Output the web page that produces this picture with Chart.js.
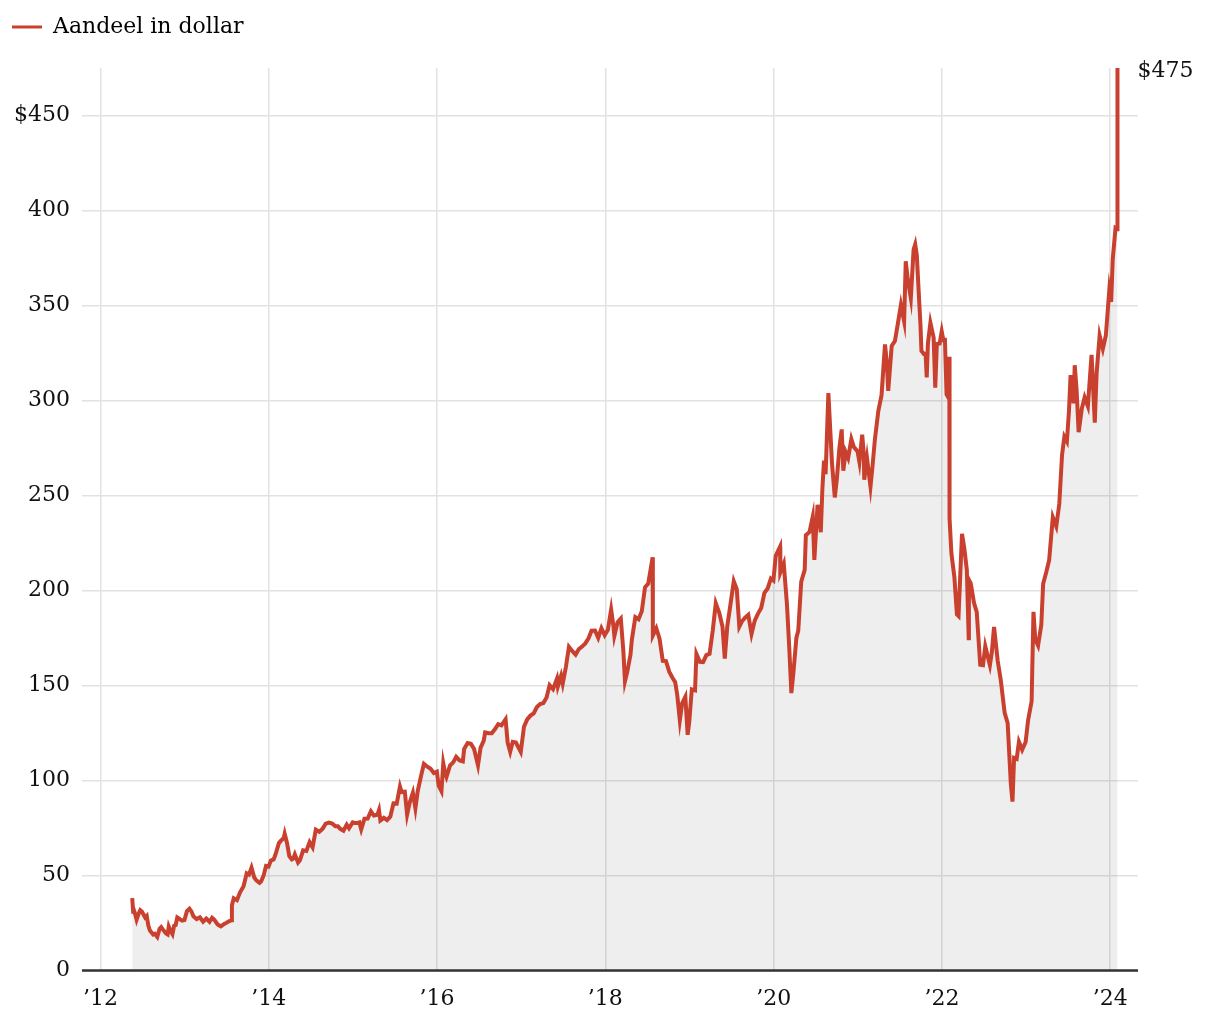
<!DOCTYPE html>
<html>
<head>
<meta charset="utf-8">
<script src="https://cdn.jsdelivr.net/npm/chart.js@4.4.1/dist/chart.umd.min.js"></script>
<style>
  html, body { margin: 0; padding: 0; background: #fff; }
  #wrap { width: 1220px; height: 1020px; }
</style>
</head>
<body>
<div id="wrap"><canvas id="myChart" width="1220" height="1020"></canvas></div>
<script>
// Data: slotkoers aandeel (dollar), ongeveer tweewekelijks
const dagen = [
  '2012-05-18','2012-05-22','2012-05-25','2012-05-31','2012-06-06','2012-06-15','2012-06-22','2012-06-29',
  '2012-07-13','2012-07-20','2012-07-27','2012-08-03','2012-08-17','2012-08-24','2012-09-04','2012-09-14',
  '2012-09-21','2012-09-28','2012-10-12','2012-10-19','2012-10-24','2012-10-31','2012-11-09','2012-11-16',
  '2012-11-23','2012-11-30','2012-12-07','2012-12-14','2012-12-21','2012-12-31',
  '2013-01-11','2013-01-22','2013-01-31','2013-02-08','2013-02-22','2013-03-08','2013-03-22','2013-04-05',
  '2013-04-19','2013-04-30','2013-05-10','2013-05-24','2013-06-07','2013-06-21','2013-06-28','2013-07-12',
  '2013-07-24','2013-07-25','2013-08-02','2013-08-16','2013-08-30','2013-09-13','2013-09-20','2013-09-27',
  '2013-10-07','2013-10-18','2013-10-30','2013-11-08','2013-11-22','2013-11-29','2013-12-10','2013-12-20',
  '2013-12-31',
  '2014-01-10','2014-01-22','2014-01-30','2014-02-07','2014-02-14','2014-02-21','2014-03-07','2014-03-11',
  '2014-03-21','2014-03-31','2014-04-11','2014-04-17','2014-04-24','2014-05-08','2014-05-16','2014-05-30',
  '2014-06-13','2014-06-27','2014-07-10','2014-07-24','2014-08-08','2014-08-22','2014-09-05','2014-09-19',
  '2014-10-03','2014-10-17','2014-10-28','2014-11-07','2014-11-21','2014-12-05','2014-12-15','2014-12-31',
  '2015-01-09','2015-01-23','2015-01-29','2015-02-06','2015-02-20','2015-03-06','2015-03-20','2015-04-02',
  '2015-04-17','2015-04-24','2015-04-30','2015-05-15','2015-05-29','2015-06-12','2015-06-26','2015-07-10',
  '2015-07-24','2015-07-31','2015-08-14','2015-08-24','2015-09-04','2015-09-18','2015-09-29','2015-10-09',
  '2015-10-23','2015-11-05','2015-11-20','2015-12-04','2015-12-18','2015-12-31',
  '2016-01-08','2016-01-20','2016-01-28','2016-02-05','2016-02-11','2016-02-26','2016-03-11','2016-03-24',
  '2016-04-08','2016-04-22','2016-04-28','2016-05-13','2016-05-27','2016-06-10','2016-06-27','2016-07-08',
  '2016-07-22','2016-07-28','2016-08-12','2016-08-26','2016-09-09','2016-09-23','2016-10-07','2016-10-25',
  '2016-11-03','2016-11-14','2016-11-25','2016-12-09','2016-12-30',
  '2017-01-13','2017-01-27','2017-02-10','2017-02-24','2017-03-10','2017-03-24','2017-04-07','2017-04-21',
  '2017-05-04','2017-05-19','2017-06-05','2017-06-09','2017-06-23','2017-06-30','2017-07-14','2017-07-27',
  '2017-08-11','2017-08-25','2017-09-08','2017-09-22','2017-10-06','2017-10-20','2017-11-02','2017-11-17',
  '2017-12-01','2017-12-15','2017-12-29',
  '2018-01-12','2018-01-26','2018-02-05','2018-02-09','2018-02-23','2018-03-09','2018-03-20','2018-03-27',
  '2018-04-06','2018-04-20','2018-04-26','2018-05-11','2018-05-25','2018-06-08','2018-06-22','2018-07-06',
  '2018-07-25','2018-07-26','2018-08-10','2018-08-24','2018-09-07','2018-09-21','2018-10-05','2018-10-19',
  '2018-10-31','2018-11-09','2018-11-20','2018-11-30','2018-12-14','2018-12-24','2018-12-31',
  '2019-01-11','2019-01-25','2019-01-31','2019-02-15','2019-03-01','2019-03-15','2019-03-29','2019-04-12',
  '2019-04-25','2019-05-10','2019-05-24','2019-06-03','2019-06-14','2019-06-28','2019-07-12','2019-07-25',
  '2019-08-05','2019-08-16','2019-08-30','2019-09-13','2019-09-27','2019-10-11','2019-10-25','2019-11-08',
  '2019-11-22','2019-12-06','2019-12-20','2019-12-31',
  '2020-01-10','2020-01-29','2020-01-30','2020-02-14','2020-02-28','2020-03-09','2020-03-18','2020-03-27',
  '2020-04-09','2020-04-17','2020-04-30','2020-05-15','2020-05-20','2020-06-05','2020-06-19','2020-06-26',
  '2020-07-10','2020-07-24','2020-07-31','2020-08-07','2020-08-14','2020-08-26','2020-09-04','2020-09-11',
  '2020-09-23','2020-10-02','2020-10-13','2020-10-23','2020-10-30','2020-11-09','2020-11-20','2020-12-04',
  '2020-12-15','2020-12-31',
  '2021-01-08','2021-01-20','2021-01-27','2021-01-29','2021-02-10','2021-02-25','2021-03-05','2021-03-16',
  '2021-03-31','2021-04-14','2021-04-29','2021-05-07','2021-05-13','2021-05-28','2021-06-11','2021-06-25',
  '2021-07-07','2021-07-21','2021-07-28','2021-08-06','2021-08-19','2021-08-31','2021-09-07','2021-09-14',
  '2021-09-24','2021-09-30','2021-10-04','2021-10-14','2021-10-22','2021-10-27','2021-11-01','2021-11-12',
  '2021-11-26','2021-12-03','2021-12-10','2021-12-22','2021-12-31',
  '2022-01-07','2022-01-14','2022-01-21','2022-01-28','2022-02-02','2022-02-03','2022-02-11','2022-02-24',
  '2022-03-07','2022-03-14','2022-03-29','2022-04-08','2022-04-19','2022-04-27','2022-04-28','2022-05-06',
  '2022-05-20','2022-06-01','2022-06-16','2022-06-28','2022-07-08','2022-07-28','2022-08-05','2022-08-15',
  '2022-08-31','2022-09-13','2022-09-30','2022-10-13','2022-10-27','2022-11-03','2022-11-10','2022-11-21',
  '2022-12-01','2022-12-15','2022-12-30',
  '2023-01-10','2023-01-25','2023-02-02','2023-02-10','2023-02-22','2023-03-08','2023-03-16','2023-03-30',
  '2023-04-11','2023-04-27','2023-05-12','2023-05-25','2023-06-06','2023-06-16','2023-06-27','2023-07-06',
  '2023-07-13','2023-07-26','2023-07-31','2023-08-08','2023-08-17','2023-08-31','2023-09-12','2023-09-26',
  '2023-10-12','2023-10-26','2023-11-03','2023-11-16','2023-11-30','2023-12-13','2023-12-28',
  '2024-01-05','2024-01-12','2024-01-24','2024-01-31','2024-02-01','2024-02-02'
];

const koers = [
  38.2, 31.0, 31.9, 29.6, 26.8, 30.0, 31.8, 31.1,
  28.0, 28.8, 23.7, 21.1, 19.0, 19.4, 17.7, 22.0,
  22.9, 21.7, 19.5, 19.0, 23.2, 21.1, 19.2, 23.6,
  24.0, 28.0, 27.5, 26.8, 26.3, 26.6,
  31.3, 32.5, 31.0, 28.6, 27.1, 28.0, 25.7, 27.4,
  25.7, 27.8, 26.7, 24.3, 23.3, 24.5, 24.9, 25.9,
  26.5, 34.4, 38.1, 37.1, 41.3, 44.3, 47.5, 51.2,
  50.5, 54.2, 49.0, 47.5, 46.2, 47.0, 50.2, 55.1,
  54.7,
  57.9, 58.5, 61.1, 64.3, 67.1, 68.1, 69.8, 72.0,
  67.2, 60.2, 58.5, 58.9, 61.2, 56.8, 58.0, 63.3,
  63.0, 67.6, 64.9, 74.2, 73.1, 74.6, 77.3, 77.9,
  77.4, 75.9, 75.9, 74.6, 73.6, 76.8, 74.9, 78.0,
  77.7, 77.7, 78.0, 74.3, 79.9, 80.0, 83.8, 81.6,
  82.0, 84.5, 79.0, 80.4, 79.2, 81.0, 88.0, 87.9,
  96.9, 94.0, 94.2, 82.1, 88.3, 93.6, 85.4, 94.4,
  102.2, 108.8, 107.3, 106.2, 104.0, 104.7,
  97.3, 94.4, 109.1, 104.1, 101.9, 107.9, 109.6, 112.5,
  110.6, 110.1, 116.7, 119.8, 119.4, 116.6, 108.0, 117.2,
  121.0, 125.3, 124.9, 124.9, 127.1, 129.7, 129.1, 132.3,
  120.0, 115.1, 120.4, 120.0, 115.1,
  128.3, 132.2, 134.2, 135.4, 138.7, 140.3, 140.8, 143.7,
  150.2, 148.1, 153.6, 149.6, 155.1, 151.0, 159.9, 170.4,
  168.1, 166.3, 169.2, 170.5, 172.2, 174.9, 178.9, 179.0,
  175.1, 180.2, 176.5,
  179.4, 190.0, 181.3, 176.1, 183.3, 185.2, 168.2, 152.2,
  157.2, 166.3, 174.2, 186.0, 184.9, 189.1, 201.7, 203.7,
  217.5, 176.3, 180.2, 174.7, 163.0, 162.9, 157.3, 154.1,
  151.8, 144.9, 131.7, 140.6, 144.1, 124.1, 131.1,
  148.0, 147.5, 166.7, 162.5, 162.3, 166.0, 166.7, 179.1,
  193.3, 188.3, 181.1, 164.2, 181.3, 193.0, 204.9, 200.7,
  181.0, 183.7, 185.7, 187.2, 177.1, 184.2, 187.9, 190.8,
  198.8, 201.1, 206.3, 205.3,
  218.3, 223.2, 209.5, 214.2, 192.5, 169.5, 146.0, 156.8,
  175.2, 178.9, 204.7, 210.9, 229.1, 230.8, 238.8, 216.1,
  245.1, 230.7, 253.7, 268.4, 261.2, 303.9, 282.7, 266.6,
  249.0, 259.0, 275.0, 284.8, 263.1, 272.9, 269.7, 279.7,
  275.5, 273.2,
  267.6, 282.0, 272.1, 258.3, 269.6, 254.7, 264.3, 279.3,
  294.5, 302.8, 329.5, 320.0, 305.1, 328.7, 331.3, 341.4,
  350.4, 341.7, 373.3, 363.5, 353.9, 379.4, 382.2, 376.5,
  352.9, 339.4, 326.2, 324.5, 324.6, 312.2, 329.9, 340.9,
  333.1, 306.8, 329.8, 330.0, 336.4,
  331.8, 331.9, 303.2, 301.7, 323.0, 237.8, 219.6, 207.0,
  187.5, 186.6, 229.9, 222.3, 210.8, 174.9, 205.7, 203.8,
  193.5, 188.6, 160.9, 160.7, 170.7, 160.7, 167.1, 180.9,
  162.9, 153.1, 135.7, 130.3, 97.9, 88.9, 111.9, 111.4,
  120.4, 116.2, 120.3,
  132.0, 141.7, 188.8, 174.2, 171.0, 182.0, 203.6, 209.9,
  216.0, 238.6, 233.8, 245.6, 271.4, 281.0, 278.5, 294.4,
  313.4, 298.6, 318.6, 305.7, 283.3, 295.9, 301.7, 297.0,
  324.0, 288.4, 314.6, 334.2, 327.2, 334.2, 358.3,
  351.9, 374.5, 390.7, 390.1, 394.8, 475.0
];

const jaarTicks = [2012, 2014, 2016, 2018, 2020, 2022, 2024];
const yTicks = [0, 50, 100, 150, 200, 250, 300, 350, 400, 450];

// datum -> jaar als decimaal getal
function naarJaar(d) {
  const p = d.split('-').map(Number);
  const start = Date.UTC(p[0], 0, 1);
  const eind = Date.UTC(p[0] + 1, 0, 1);
  return p[0] + (Date.UTC(p[0], p[1] - 1, p[2]) - start) / (eind - start);
}

const punten = dagen.map((d, i) => ({ x: naarJaar(d), y: koers[i] }));

const rood = '#c9402e';
const serif = '"DejaVu Serif", "Liberation Serif", serif';

// ruimte onder de legenda
const legendaMarge = {
  id: 'legendaMarge',
  afterInit(chart) {
    const fit = chart.legend.fit;
    chart.legend.fit = function () {
      fit.bind(chart.legend)();
      this.height += 20;
    };
  }
};

// nullijn boven de vulling + label met laatste koers
const eindLabel = {
  id: 'eindLabel',
  afterDatasetsDraw(chart) {
    const { ctx, scales } = chart;
    const y0 = scales.y.getPixelForValue(0);
    ctx.save();
    ctx.strokeStyle = '#333';
    ctx.lineWidth = 2.5;
    ctx.beginPath();
    ctx.moveTo(scales.x.left, y0);
    ctx.lineTo(scales.x.right, y0);
    ctx.stroke();

    const meta = chart.getDatasetMeta(0);
    const laatste = meta.data[meta.data.length - 1];
    ctx.font = '22px ' + serif;
    ctx.fillStyle = '#111';
    ctx.textAlign = 'left';
    ctx.textBaseline = 'middle';
    ctx.fillText('$' + Math.round(koers[koers.length - 1]), laatste.x + 20, laatste.y + 3);
    ctx.restore();
  }
};

const ctx = document.getElementById('myChart');
const myChart = new Chart(ctx, {
  type: 'line',
  data: {
    datasets: [{
      label: 'Aandeel in dollar',
      data: punten,
      borderColor: rood,
      backgroundColor: 'rgba(0,0,0,0.065)',
      borderWidth: 4,
      pointRadius: 0,
      tension: 0,
      fill: 'origin'
    }]
  },
  options: {
    responsive: false,
    animation: false,
    layout: {
      padding: { left: 2, right: 82, top: 6, bottom: -7 }
    },
    plugins: {
      legend: {
        display: true,
        position: 'top',
        align: 'start',
        labels: {
          boxWidth: 30,
          boxHeight: 3,
          color: '#111',
          font: { family: serif, size: 22 },
          padding: 10,
          generateLabels: () => [{
            text: 'Aandeel in dollar',
            fillStyle: rood,
            strokeStyle: rood,
            lineWidth: 0,
            hidden: false,
            datasetIndex: 0
          }]
        }
      },
      tooltip: { enabled: false }
    },
    scales: {
      x: {
        type: 'linear',
        min: 2011.78,
        max: 2024.33,
        afterBuildTicks: (axis) => {
          axis.ticks = jaarTicks.map(v => ({ value: v }));
        },
        ticks: {
          color: '#111',
          font: { family: serif, size: 22 },
          padding: 15,
          maxRotation: 0,
          callback: (v) => '\u2019' + String(v).slice(2)
        },
        grid: {
          color: '#e2e2e2',
          lineWidth: 1.5,
          drawTicks: false
        },
        border: { display: false }
      },
      y: {
        type: 'linear',
        min: 0,
        max: 475,
        afterBuildTicks: (axis) => {
          axis.ticks = yTicks.map(v => ({ value: v }));
        },
        ticks: {
          color: '#111',
          font: { family: serif, size: 22 },
          padding: 12,
          callback: (v) => v === yTicks[yTicks.length - 1] ? '$' + v : String(v)
        },
        grid: {
          color: '#e2e2e2',
          lineWidth: 1.5,
          drawTicks: false
        },
        border: { display: false }
      }
    }
  },
  plugins: [legendaMarge, eindLabel]
});
</script>
</body>
</html>
